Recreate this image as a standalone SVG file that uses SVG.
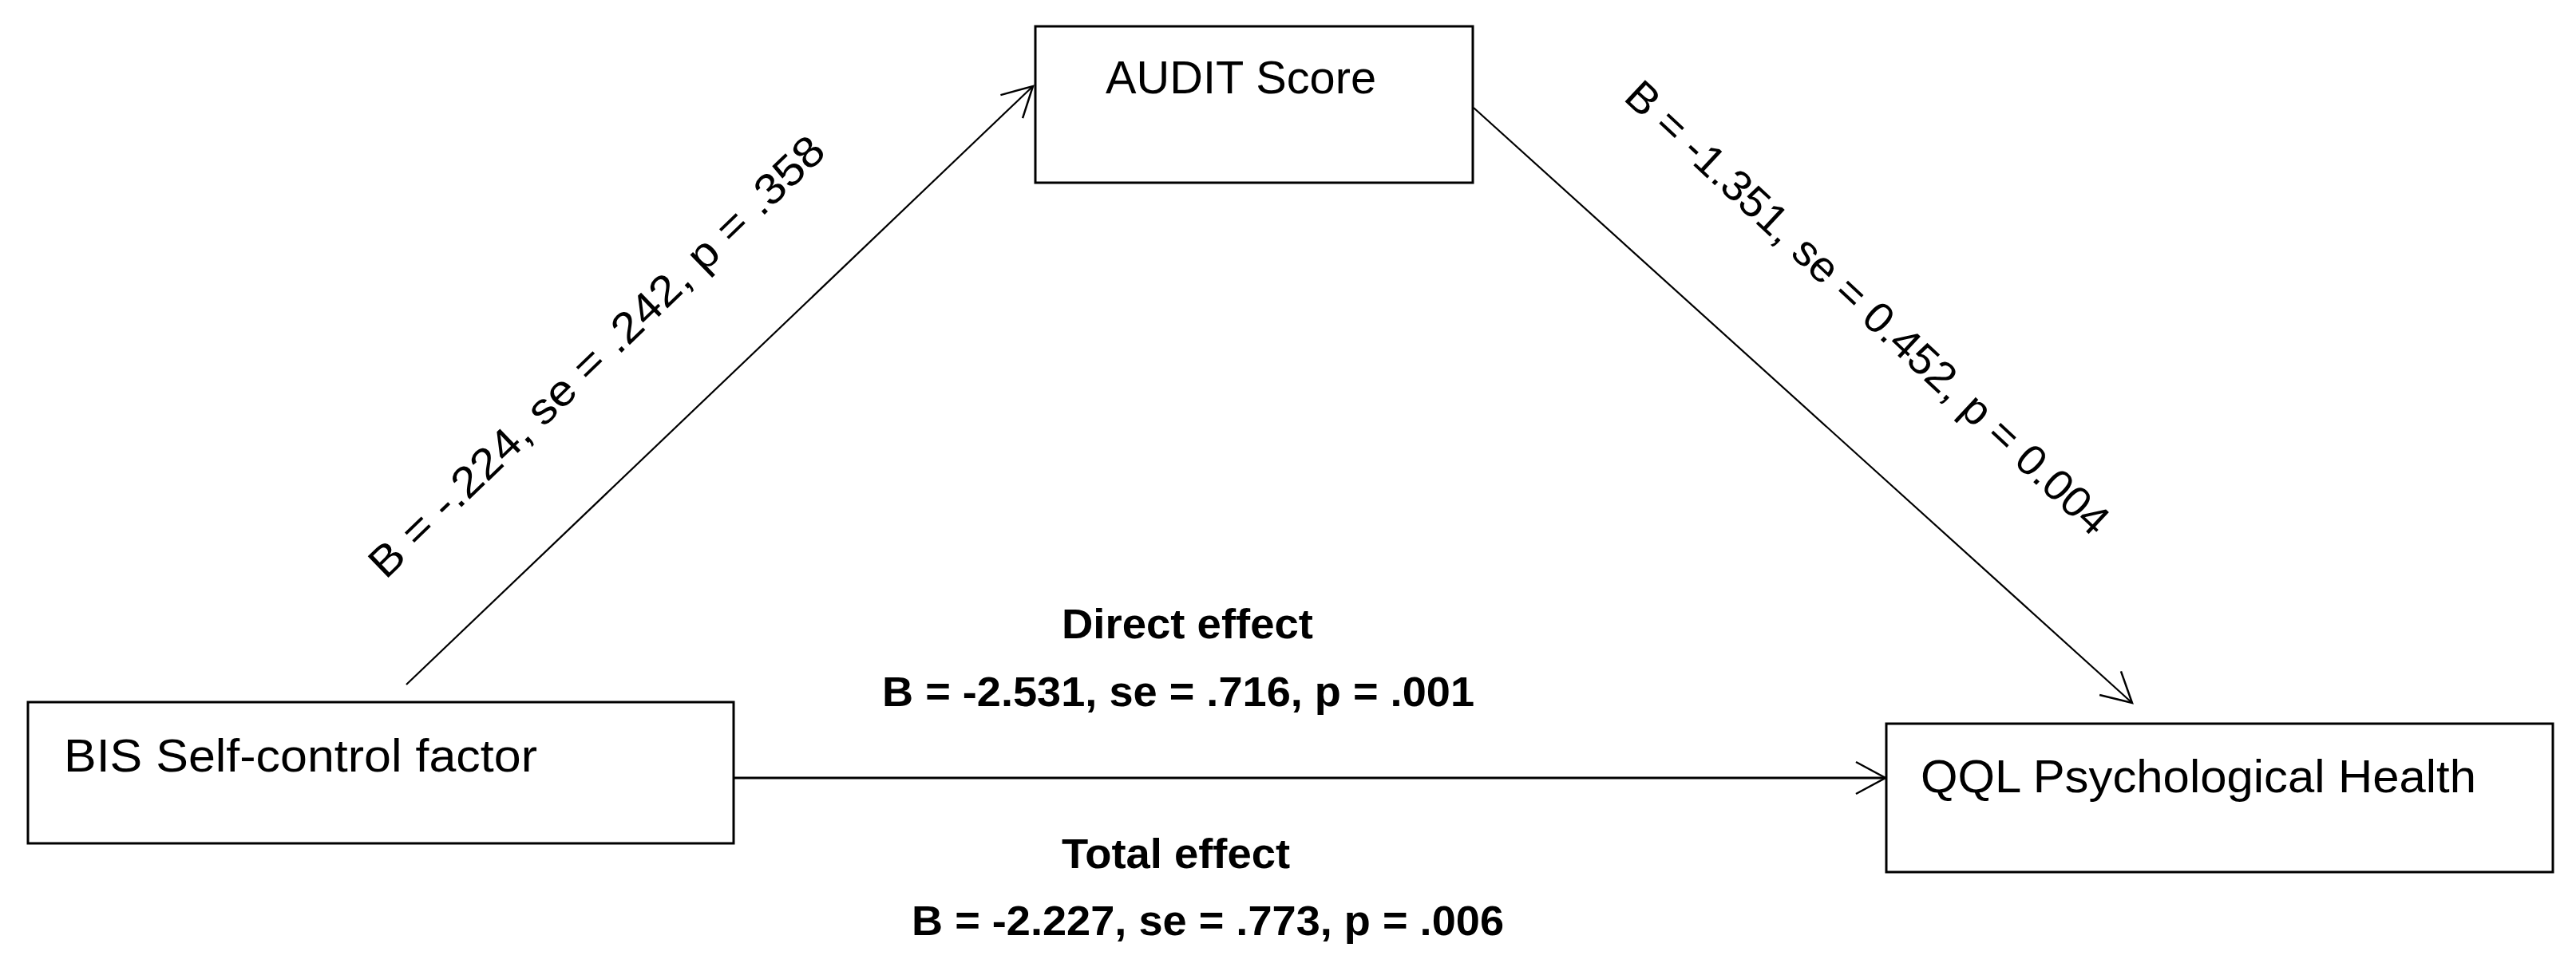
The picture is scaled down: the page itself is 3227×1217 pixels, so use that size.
<svg xmlns="http://www.w3.org/2000/svg" width="3227" height="1217" viewBox="0 0 3227 1217">
  <style>
    .box { fill: #ffffff; stroke: #000000; stroke-width: 3; }
    .lbl { font-family: "Liberation Sans", Arial, sans-serif; font-size: 58px; fill: #000000; }
    .path { font-family: "Liberation Sans", Arial, sans-serif; font-size: 54px; fill: #000000; }
    .eff { font-family: "Liberation Sans", Arial, sans-serif; font-size: 51px; font-weight: bold; fill: #000000; }
    .conn { fill: none; stroke: #000000; }
  </style>
  <defs>
    <marker id="arrow" markerUnits="userSpaceOnUse" markerWidth="60" markerHeight="60" viewBox="-45 -30 60 60" refX="0" refY="0" orient="auto">
      <path d="M -37 -20 L 0 0 L -37 20" fill="none" stroke="#000000" stroke-width="2.5"/>
    </marker>
  </defs>
  <rect x="0" y="0" width="3227" height="1217" fill="#ffffff"/>

  <g id="connectors">
    <line class="conn" x1="509" y1="858" x2="1294" y2="108" stroke-width="2.2" marker-end="url(#arrow)"/>
    <line class="conn" x1="1846" y1="135" x2="2671" y2="881" stroke-width="2.2" marker-end="url(#arrow)"/>
    <line class="conn" x1="919" y1="975" x2="2362" y2="975" stroke-width="2.8" marker-end="url(#arrow)"/>
  </g>

  <g id="node-audit">
    <rect class="box" x="1297" y="33" width="548" height="196"/>
    <text class="lbl" x="1385" y="117" textLength="339" lengthAdjust="spacingAndGlyphs">AUDIT Score</text>
  </g>

  <g id="node-bis">
    <rect class="box" x="35" y="880" width="884" height="177"/>
    <text class="lbl" x="80" y="967" textLength="593" lengthAdjust="spacingAndGlyphs">BIS Self-control factor</text>
  </g>

  <g id="node-qql">
    <rect class="box" x="2363" y="907" width="835" height="186"/>
    <text class="lbl" x="2406" y="993" textLength="696" lengthAdjust="spacingAndGlyphs">QQL Psychological Health</text>
  </g>

  <g id="labels">
    <text class="path" x="760" y="460" text-anchor="middle" textLength="770" lengthAdjust="spacingAndGlyphs" transform="rotate(-44 760 460)">B = -.224, se = .242, p = .358</text>
    <text class="path" x="2327" y="399" text-anchor="middle" textLength="806" lengthAdjust="spacingAndGlyphs" transform="rotate(43 2327 399)">B = -1.351, se = 0.452, p = 0.004</text>
    <text class="eff" x="1330" y="800" textLength="315" lengthAdjust="spacingAndGlyphs">Direct effect</text>
    <text class="eff" x="1105" y="885" textLength="742" lengthAdjust="spacingAndGlyphs">B = -2.531, se = .716, p = .001</text>
    <text class="eff" x="1330" y="1088" textLength="286" lengthAdjust="spacingAndGlyphs">Total effect</text>
    <text class="eff" x="1142" y="1172" textLength="742" lengthAdjust="spacingAndGlyphs">B = -2.227, se = .773, p = .006</text>
  </g>
</svg>
